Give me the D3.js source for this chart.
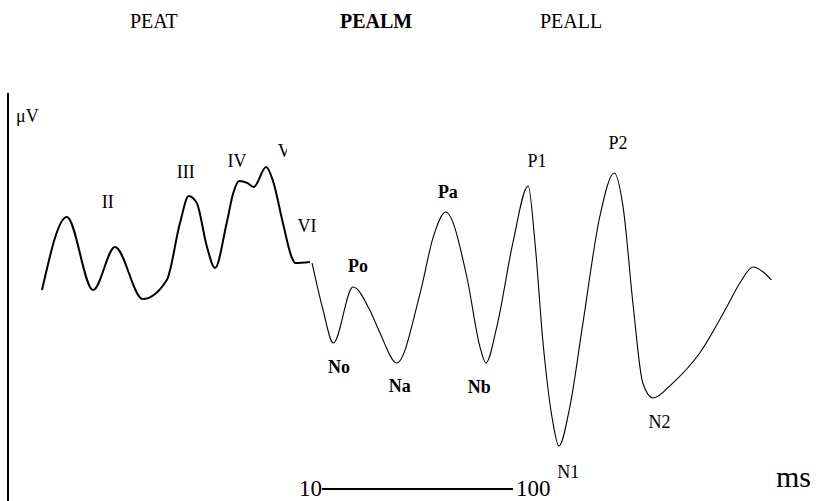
<!DOCTYPE html>
<html>
<head>
<meta charset="utf-8">
<script src="https://cdn.jsdelivr.net/npm/d3@7"></script>
<style>
  body { margin: 0; background: #fff; }
  svg { display: block; font-family: "Liberation Serif", "Times New Roman", serif; }
</style>
</head>
<body>
<div id="chart"></div>
<script>
var svgWidth = 835;
var svgHeight = 501;

// early waves (PEAT), drawn with a thicker stroke
var earlyT = [0, 3.4, 7.0, 10.0, 13.8, 17.1, 18.9, 20.1, 21.2, 22.6, 23.7, 25.3, 26.2, 27.0, 28.1, 29.0, 30.7, 31.6, 33.0, 34.2, 34.7, 36.7];
var earlyV = [1.33, 6.2, 1.33, 4.2, 0.73, 2.0, 5.8, 7.6, 7.13, 4.2, 2.8, 5.8, 7.8, 8.6, 8.47, 8.2, 9.53, 8.67, 5.8, 3.53, 3.13, 3.2];

// middle + late waves (PEALM / PEALL), thin stroke
var lateT = [37.0, 38.5, 39.9, 42.6, 44.9, 46.3, 48.6, 51.8, 53.6, 55.3, 58.2, 60.0, 60.8, 62.3, 64.5, 66.6, 67.5, 68.6, 70.0, 70.8, 72.3, 74.1, 76.4, 78.4, 79.6, 81.0, 82.3, 83.7, 86.4, 90.1, 93.8, 95.6, 97.4, 98.8, 99.9];
var lateV = [3.13, 0, -2.2, 1.53, 0, -1.53, -3.53, 1.13, 4.87, 6.53, 2.2, -2.47, -3.53, -1.13, 4.47, 8.27, 4.67, -2.0, -7.53, -9.07, -6.47, -0.87, 6.2, 9.13, 6.87, 0.2, -4.87, -5.87, -4.87, -2.87, 0.2, 1.8, 2.87, 2.53, 2.0];

// wave names
var waveNames = ["II", "III", "IV", "V", "VI", "Po", "No", "Na", "Pa", "Nb", "P1", "P2", "N2", "N1"];
var waveT = [9.0, 19.7, 26.7, 32.3, 36.3, 43.3, 40.7, 49.0, 55.6, 59.9, 67.8, 78.9, 84.6, 72.1];
var waveV = [6.8, 8.8, 9.53, 10.2, 5.2, 2.53, -4.2, -5.47, 7.47, -5.53, 9.53, 10.73, -7.87, -11.2];
var waveBold = [false, false, false, false, false, true, true, true, true, true, false, false, false, false];

// headers
var headers = ["PEAT", "PEALM", "PEALL"];
var headerX = [130, 340, 540];
var headerBold = [false, true, false];

// time bar tick labels
var timeTicks = [10, 100];

var svg = d3.select("#chart")
  .append("svg")
  .attr("width", svgWidth)
  .attr("height", svgHeight);

var x = d3.scaleLinear().domain([0, 100]).range([42, 772]);
var y = d3.scaleLinear().domain([-10, 10]).range([460, 160]);

var line = d3.line()
  .x(d => x(d[0]))
  .y(d => y(d[1]))
  .curve(d3.curveMonotoneX);

var early = earlyT.map((t, i) => [t, earlyV[i]]);
var late = lateT.map((t, i) => [t, lateV[i]]);

// headers
svg.selectAll(".header")
  .data(headers)
  .enter()
  .append("text")
  .attr("class", "header")
  .attr("x", (d, i) => headerX[i])
  .attr("y", 28)
  .attr("font-size", 20)
  .attr("font-weight", (d, i) => headerBold[i] ? "bold" : "normal")
  .text(d => d);

// vertical axis
svg.append("line")
  .attr("x1", 8).attr("x2", 8)
  .attr("y1", 93).attr("y2", svgHeight)
  .attr("stroke", "#000")
  .attr("stroke-width", 2);

svg.append("text")
  .attr("x", 16)
  .attr("y", 122)
  .attr("font-size", 18)
  .text("\u03bcV");

// curves
svg.append("path")
  .datum(early)
  .attr("d", line)
  .attr("fill", "none")
  .attr("stroke", "#000")
  .attr("stroke-width", 2);

svg.append("path")
  .datum(late)
  .attr("d", line)
  .attr("fill", "none")
  .attr("stroke", "#000")
  .attr("stroke-width", 1.1);

// clip for the half hidden "V"
svg.append("clipPath")
  .attr("id", "vclip")
  .append("rect")
  .attr("x", 0).attr("y", 0)
  .attr("width", 287).attr("height", svgHeight);

svg.selectAll(".wave")
  .data(waveNames)
  .enter()
  .append("text")
  .attr("class", "wave")
  .attr("x", (d, i) => x(waveT[i]))
  .attr("y", (d, i) => y(waveV[i]))
  .attr("text-anchor", d => d === "V" ? "start" : "middle")
  .attr("clip-path", d => d === "V" ? "url(#vclip)" : null)
  .attr("font-size", 18)
  .attr("font-weight", (d, i) => waveBold[i] ? "bold" : "normal")
  .text(d => d);

// time bar
var tx = d3.scaleLog().domain([10, 100]).range([322, 513]);

svg.append("line")
  .attr("x1", tx(timeTicks[0]))
  .attr("x2", tx(timeTicks[1]))
  .attr("y1", 489).attr("y2", 489)
  .attr("stroke", "#000")
  .attr("stroke-width", 2);

svg.selectAll(".tick")
  .data(timeTicks)
  .enter()
  .append("text")
  .attr("class", "tick")
  .attr("x", (d, i) => i === 0 ? tx(d) : tx(d) + 3)
  .attr("y", 496)
  .attr("text-anchor", (d, i) => i === 0 ? "end" : "start")
  .attr("font-size", 23)
  .text(d => d);

svg.append("text")
  .attr("x", 776)
  .attr("y", 487)
  .attr("font-size", 30)
  .text("ms");
</script>
</body>
</html>
